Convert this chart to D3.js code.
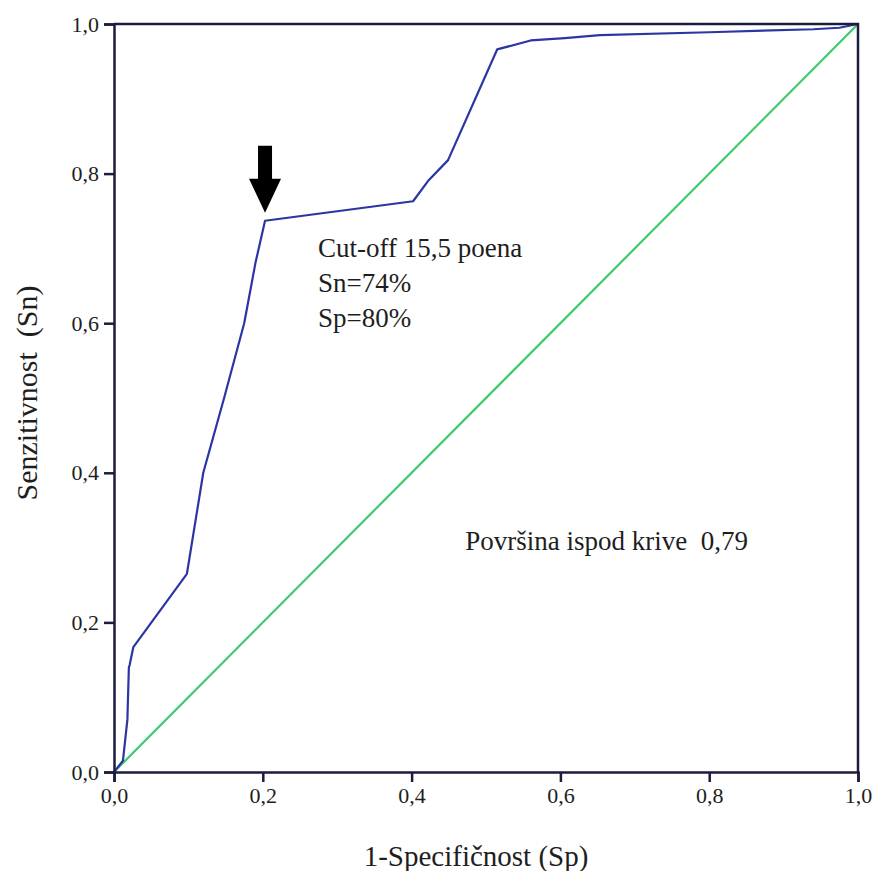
<!DOCTYPE html>
<html>
<head>
<meta charset="utf-8">
<script src="https://cdn.jsdelivr.net/npm/d3@7"></script>
<style>
  body { margin: 0; background: #fff; }
  text { font-family: "Liberation Serif", "Times New Roman", serif; fill: #1e1e1e; }
</style>
</head>
<body>
<div id="chart"></div>
<script>
// ROC curve points (1 - specificity, sensitivity)
const fpr = [0, 0.012, 0.018, 0.02, 0.021, 0.026, 0.098, 0.12, 0.148, 0.175, 0.19, 0.203, 0.402, 0.422, 0.449, 0.515, 0.56, 0.606, 0.653, 0.8, 0.94, 0.975, 1.0];
const tpr = [0, 0.015, 0.07, 0.14, 0.143, 0.167, 0.265, 0.4, 0.5, 0.6, 0.68, 0.737, 0.763, 0.79, 0.818, 0.966, 0.978, 0.981, 0.985, 0.989, 0.993, 0.995, 1.0];
const tickValues = [0, 0.2, 0.4, 0.6, 0.8, 1.0];
const cutoff = { x: 0.203, y: 0.737 };
const notes = ["Cut-off 15,5 poena", "Sn=74%", "Sp=80%"];
const aucNote = "Površina ispod krive  0,79";

const width = 873, height = 871;
const margin = { top: 24, right: 15, bottom: 99, left: 114 };
const w = width - margin.left - margin.right;
const h = height - margin.top - margin.bottom;

const svg = d3.select("#chart").append("svg")
    .attr("width", width)
    .attr("height", height);

const g = svg.append("g")
    .attr("transform", `translate(${margin.left},${margin.top})`);

const x = d3.scaleLinear().domain([0, 1]).range([0, w]);
const y = d3.scaleLinear().domain([0, 1]).range([h, 0]);

const fmt = d => d3.format(".1f")(d).replace(".", ",");
const axisColor = "#1c1c3c";

// reference diagonal
g.append("line")
    .attr("x1", x(0)).attr("y1", y(0))
    .attr("x2", x(1)).attr("y2", y(1))
    .attr("stroke", "#3ccb6c")
    .attr("stroke-width", 2.2);

// ROC curve
const points = fpr.map((d, i) => [d, tpr[i]]);
g.append("path")
    .datum(points)
    .attr("fill", "none")
    .attr("stroke", "#2b36a3")
    .attr("stroke-width", 2.2)
    .attr("stroke-linejoin", "round")
    .attr("d", d3.line().x(d => x(d[0])).y(d => y(d[1])));

// frame: top and right edges
g.append("path")
    .attr("d", `M0,${y(1)}H${x(1)}V${y(0)}`)
    .attr("fill", "none")
    .attr("stroke", axisColor)
    .attr("stroke-width", 2.5);

const xAxis = g.append("g")
    .attr("transform", `translate(0,${h})`)
    .call(d3.axisBottom(x).tickValues(tickValues).tickFormat(fmt).tickSize(10).tickPadding(5));

const yAxis = g.append("g")
    .call(d3.axisLeft(y).tickValues(tickValues).tickFormat(fmt).tickSize(10).tickPadding(5));

[xAxis, yAxis].forEach(a => {
    a.select(".domain").attr("stroke", axisColor).attr("stroke-width", 2.5);
    a.selectAll(".tick line").attr("stroke", axisColor).attr("stroke-width", 2.5);
    a.selectAll(".tick text")
        .attr("font-family", "Liberation Serif, serif")
        .attr("font-size", 22)
        .attr("fill", "#222");
});

// axis titles
svg.append("text")
    .attr("x", 476)
    .attr("y", 866)
    .attr("text-anchor", "middle")
    .attr("font-size", 29)
    .text("1-Specifičnost (Sp)");

svg.append("text")
    .attr("transform", `translate(37,${393}) rotate(-90)`)
    .attr("text-anchor", "middle")
    .attr("font-size", 30)
    .style("white-space", "pre")
    .text("Senzitivnost  (Sn)");

// arrow pointing at cut-off
const ax = x(cutoff.x), ay = y(cutoff.y) - 8;
g.append("path")
    .attr("d", `M${ax - 7},${ay - 67}H${ax + 7}V${ay - 34}H${ax + 16}L${ax},${ay}L${ax - 16},${ay - 34}H${ax - 7}Z`)
    .attr("fill", "#000");

// annotations
g.selectAll(".note")
    .data(notes)
    .join("text")
    .attr("class", "note")
    .attr("x", x(cutoff.x) + 53)
    .attr("y", (d, i) => y(cutoff.y) + 36 + i * 35)
    .attr("font-size", 27)
    .text(d => d);

g.append("text")
    .attr("x", x(0.472))
    .attr("y", y(0.297))
    .attr("font-size", 27)
    .style("white-space", "pre")
    .text(aucNote);
</script>
</body>
</html>
